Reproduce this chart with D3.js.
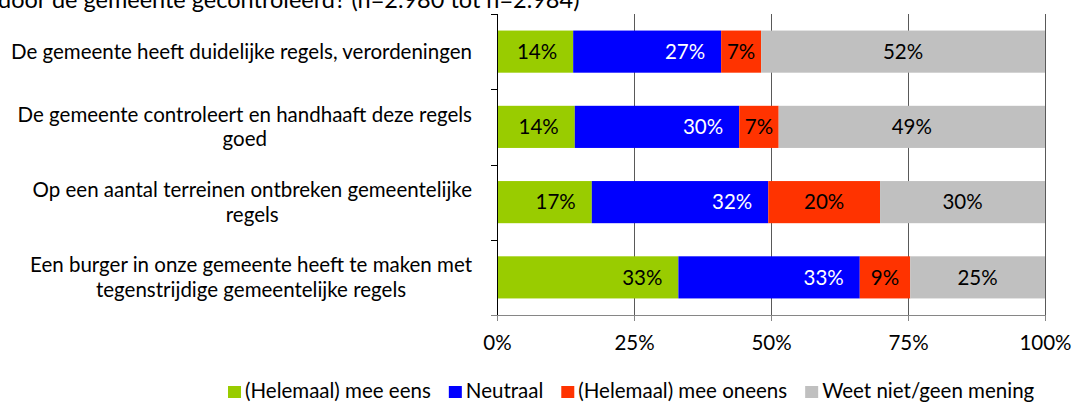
<!DOCTYPE html>
<html>
<head>
<meta charset="utf-8">
<script src="https://cdn.jsdelivr.net/npm/d3@7"></script>
<style>
  html, body { margin: 0; padding: 0; background: #fff; }
  svg { display: block; font-family: Lato, "Noto Sans", sans-serif; }
</style>
</head>
<body>
<svg id="chart" width="1073" height="403"></svg>
<script>
// Survey statements (label lines) and answer shares in percent
const categories = [
  "De gemeente heeft duidelijke regels, verordeningen",
  "De gemeente controleert en handhaaft deze regels|goed",
  "Op een aantal terreinen ontbreken gemeentelijke|regels",
  "Een burger in onze gemeente heeft te maken met|tegenstrijdige gemeentelijke regels"
];
const seriesNames = ["(Helemaal) mee eens", "Neutraal", "(Helemaal) mee oneens", "Weet niet/geen mening"];
const meeEens   = [13.9, 14.2, 17.3, 33.1];
const neutraal  = [27.0, 30.0, 32.2, 33.1];
const meeOneens = [7.3, 7.2, 20.4, 9.2];
const weetNiet  = [51.8, 48.6, 30.1, 24.6];
const xTicks = [0, 25, 50, 75, 100];
const xTickLabels = ["0%", "25%", "50%", "75%", "100%"];
const titleText = "door de gemeente gecontroleerd? (n=2.980 tot n=2.984)";

const colors = ["#99CC00", "#0000FF", "#FF3300", "#C0C0C0"];
const labelColors = ["#000", "#fff", "#000", "#000"];
const fs = 20.5;

const svg = d3.select("#chart");
const margin = { top: 14, left: 497, right: 1045, bottom: 315 };

const x = d3.scaleLinear().domain([0, 100]).range([margin.left, margin.right]);
const y = d3.scaleBand().domain(categories).range([margin.top, margin.bottom])
  .paddingInner(0.44).paddingOuter(0.22);

// Build stacked rows
const rows = categories.map((c, i) => ({
  cat: c,
  s0: meeEens[i], s1: neutraal[i], s2: meeOneens[i], s3: weetNiet[i]
}));
const stacked = d3.stack().keys(["s0", "s1", "s2", "s3"])(rows);

// Title line (continues from above the visible area)
svg.append("text")
  .attr("x", -2).attr("y", 8)
  .attr("font-size", 23.5).attr("fill", "#000")
  .text(titleText);

// Vertical gridlines
svg.append("g").selectAll("line")
  .data(xTicks.filter(d => d > 0))
  .join("line")
  .attr("x1", d => x(d) + 0.5).attr("x2", d => x(d) + 0.5)
  .attr("y1", margin.top).attr("y2", margin.bottom)
  .attr("stroke", "#595959").attr("stroke-width", 1);

// Bars
const layer = svg.append("g").selectAll("g")
  .data(stacked).join("g")
  .attr("fill", (d, i) => colors[i]);

layer.selectAll("rect")
  .data(d => d.map(v => ({ v, cat: v.data.cat })))
  .join("rect")
  .attr("x", d => x(d.v[0]))
  .attr("width", d => x(d.v[1]) - x(d.v[0]))
  .attr("y", d => y(d.cat))
  .attr("height", y.bandwidth());

// Value labels: first two series sit near the segment end, others centred
const fmt = d => Math.round(d) + "%";
stacked.forEach((s, si) => {
  svg.append("g").selectAll("text")
    .data(s).join("text")
    .attr("x", d => si < 2 ? x(d[1]) - 16 : (x(d[0]) + x(d[1])) / 2)
    .attr("y", d => y(d.data.cat) + y.bandwidth() / 2 + 7.3)
    .attr("text-anchor", si < 2 ? "end" : "middle")
    .attr("font-size", fs)
    .attr("fill", labelColors[si])
    .text(d => fmt(d[1] - d[0]));
});

// Y axis line and category boundary ticks
svg.append("line")
  .attr("x1", margin.left + 0.5).attr("x2", margin.left + 0.5)
  .attr("y1", margin.top).attr("y2", margin.bottom)
  .attr("stroke", "#000");
const bounds = d3.range(categories.length + 1).map(i => margin.top + i * y.step());
svg.append("g").selectAll("line").data(bounds).join("line")
  .attr("x1", margin.left - 6).attr("x2", margin.left)
  .attr("y1", d => Math.round(d) + 0.5).attr("y2", d => Math.round(d) + 0.5)
  .attr("stroke", "#000");

// X axis
const xAxis = d3.axisBottom(x).tickValues(xTicks)
  .tickFormat((d, i) => xTickLabels[i]).tickSize(6).tickSizeOuter(0).tickPadding(14);
const gx = svg.append("g").attr("transform", `translate(0,${margin.bottom})`).call(xAxis);
gx.select(".domain").attr("stroke", "#868686").attr("d", `M${margin.left - 6},0.5H${margin.right}`);
gx.selectAll(".tick line").attr("stroke", "#868686");
gx.selectAll(".tick text").attr("font-size", fs).attr("fill", "#000")
  .attr("font-family", "Lato, 'Noto Sans', sans-serif");

// Category labels: wrapped lines centred on the widest line, right edge fixed
const labelRight = 472;
const lineH = 24.6;
categories.forEach(c => {
  const lines = c.split("|");
  const g = svg.append("g");
  const cy = y(c) + y.bandwidth() / 2;
  const texts = lines.map((ln, i) => g.append("text")
    .attr("font-size", fs).attr("fill", "#000")
    .attr("text-anchor", "middle")
    .attr("y", cy + 7.3 + (i - (lines.length - 1) / 2) * lineH)
    .text(ln));
  const w = d3.max(texts, t => t.node().getComputedTextLength());
  texts.forEach(t => t.attr("x", labelRight - w / 2));
});

// Legend
const legend = svg.append("g").attr("transform", "translate(228,0)");
let lx = 0;
seriesNames.forEach((name, i) => {
  legend.append("rect").attr("x", lx).attr("y", 386).attr("width", 13).attr("height", 12)
    .attr("fill", colors[i]);
  const t = legend.append("text").attr("x", lx + 17).attr("y", 398)
    .attr("font-size", fs).attr("fill", "#000").text(name);
  lx += 17 + t.node().getComputedTextLength() + 18;
});
</script>
</body>
</html>
